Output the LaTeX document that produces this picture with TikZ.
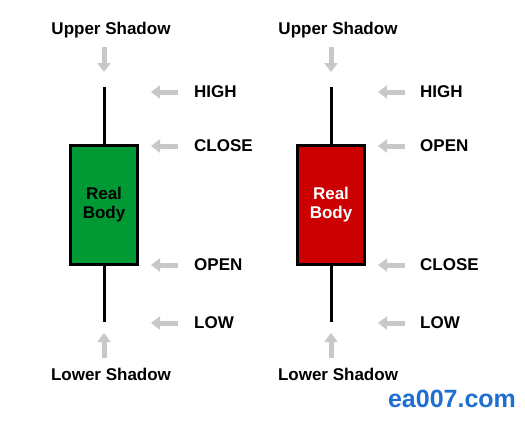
\documentclass[tikz,border=0pt]{standalone}
\usepackage{fontspec}
\setmainfont{Liberation Sans}
\usetikzlibrary{arrows.meta}
\definecolor{bullgreen}{HTML}{009933}
\definecolor{bearred}{HTML}{CC0000}
\definecolor{hintgray}{HTML}{C8C8C8}
\definecolor{markblue}{HTML}{1F6FD0}
\tikzset{
  lbl/.style={font=\fontsize{17}{20}\selectfont\bfseries,inner sep=0pt},
  bodybox/.style={draw=black,line width=3pt,minimum width=67pt,minimum height=119pt,inner sep=0pt,align=center,font=\fontsize{17}{19}\selectfont\bfseries},
  wick/.style={line width=3pt},
  hint/.style={draw=hintgray,line width=5pt,-{Triangle[width=13pt,length=9pt]}}
}
\begin{document}
\begin{tikzpicture}[x=1pt,y=-1pt]
  \useasboundingbox[fill=white] (0,0) rectangle (525,423);
  % Green candle
  \node (gbody) [bodybox,fill=bullgreen] at (104,204.5) {Real\\Body};
  \coordinate (ghigh) at (104,87);
  \coordinate (glow) at (104,322);
  \draw[wick] (ghigh) -- (gbody.north);
  \draw[wick] (gbody.south) -- (glow);
  % Red candle
  \node (rbody) [bodybox,fill=bearred,text=white] at (331,204.5) {Real\\Body};
  \coordinate (rhigh) at (331,87);
  \coordinate (rlow) at (331,322);
  \draw[wick] (rhigh) -- (rbody.north);
  \draw[wick] (rbody.south) -- (rlow);
  % Shadow labels
  \node (gup) [lbl] at (111,30) {Upper Shadow};
  \node (gdown) [lbl] at (111,374) {Lower Shadow};
  \node (rup) [lbl] at (338,30) {Upper Shadow};
  \node (rdown) [lbl] at (338,374) {Lower Shadow};
  \coordinate (gupa) at (104,47);
  \coordinate (gupb) at (104,72);
  \coordinate (gdna) at (104,358);
  \coordinate (gdnb) at (104,333);
  \coordinate (rupa) at (331,47);
  \coordinate (rupb) at (331,72);
  \coordinate (rdna) at (331,358);
  \coordinate (rdnb) at (331,333);
  \draw[hint] (gupa) -- (gupb);
  \draw[hint] (gdna) -- (gdnb);
  \draw[hint] (rupa) -- (rupb);
  \draw[hint] (rdna) -- (rdnb);
  % Price labels, green
  \node (ghi) [lbl,anchor=west] at (194,92) {HIGH};
  \node (gcl) [lbl,anchor=west] at (194,146) {CLOSE};
  \node (gop) [lbl,anchor=west] at (194,265) {OPEN};
  \node (glo) [lbl,anchor=west] at (194,323) {LOW};
  \draw[hint] ([xshift=-16pt]ghi.west) -- ++(-27,0);
  \draw[hint] ([xshift=-16pt]gcl.west) -- ++(-27,0);
  \draw[hint] ([xshift=-16pt]gop.west) -- ++(-27,0);
  \draw[hint] ([xshift=-16pt]glo.west) -- ++(-27,0);
  % Price labels, red
  \node (rhi) [lbl,anchor=west] at (420,92) {HIGH};
  \node (rop) [lbl,anchor=west] at (420,146) {OPEN};
  \node (rcl) [lbl,anchor=west] at (420,265) {CLOSE};
  \node (rlo) [lbl,anchor=west] at (420,323) {LOW};
  \draw[hint] ([xshift=-15pt]rhi.west) -- ++(-27,0);
  \draw[hint] ([xshift=-15pt]rop.west) -- ++(-27,0);
  \draw[hint] ([xshift=-15pt]rcl.west) -- ++(-27,0);
  \draw[hint] ([xshift=-15pt]rlo.west) -- ++(-27,0);
  % Watermark
  \node (mark) [font=\fontsize{25}{28}\selectfont\bfseries,text=markblue,inner sep=0pt] at (452,399) {ea007.com};
\end{tikzpicture}
\end{document}
